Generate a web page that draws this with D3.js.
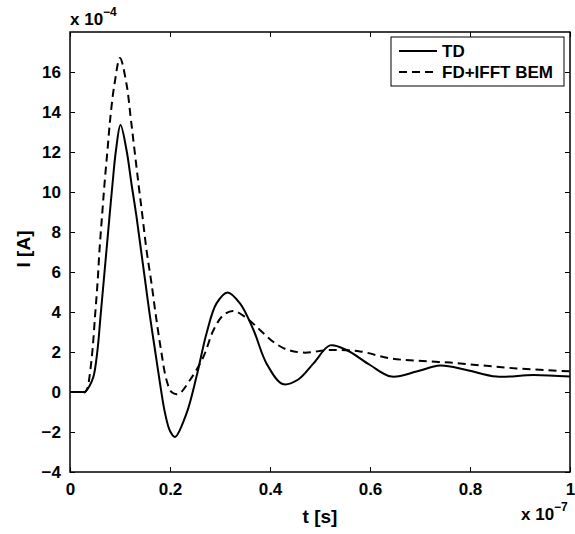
<!DOCTYPE html>
<html>
<head>
<meta charset="utf-8">
<script src="https://cdn.jsdelivr.net/npm/d3@7"></script>
<style>
  body { margin: 0; background: #fff; }
  svg { font-family: "Liberation Sans", Arial, sans-serif; font-weight: bold; }
</style>
</head>
<body>
<div id="chart"></div>
<script>
// time in units of 1e-7 s, current in units of 1e-4 A
const tdTime = [0, 0.025, 0.03, 0.039, 0.047, 0.055, 0.061, 0.067, 0.073, 0.079, 0.085, 0.092, 0.101, 0.113, 0.123, 0.133, 0.142, 0.151, 0.16, 0.17, 0.18, 0.19, 0.2, 0.21, 0.233, 0.253, 0.273, 0.293, 0.315, 0.34, 0.367, 0.393, 0.425, 0.455, 0.487, 0.52, 0.553, 0.6, 0.643, 0.693, 0.74, 0.793, 0.853, 0.927, 1.0];
const tdValues = [0, 0, 0, 0.3, 0.77, 2.1, 3.77, 5.43, 7.1, 8.77, 10.4, 12.1, 13.35, 12.1, 10.4, 8.77, 7.1, 5.43, 3.77, 2.1, 0.43, -1.05, -1.95, -2.25, -1.07, 0.77, 2.93, 4.43, 4.98, 4.43, 3.1, 1.43, 0.4, 0.6, 1.43, 2.33, 2.1, 1.35, 0.77, 1.02, 1.32, 1.1, 0.77, 0.85, 0.77];

const fdTime = [0, 0.025, 0.03, 0.035, 0.039, 0.045, 0.05, 0.055, 0.059, 0.064, 0.069, 0.075, 0.081, 0.089, 0.1, 0.113, 0.121, 0.129, 0.137, 0.145, 0.153, 0.163, 0.172, 0.182, 0.193, 0.203, 0.217, 0.24, 0.267, 0.287, 0.307, 0.327, 0.353, 0.38, 0.407, 0.433, 0.467, 0.52, 0.58, 0.64, 0.693, 0.76, 0.827, 0.893, 1.0];
const fdValues = [0, 0, 0, 0.2, 0.77, 2.1, 3.77, 5.43, 7.1, 8.77, 10.4, 12.1, 13.8, 15.4, 16.7, 15.4, 13.8, 12.1, 10.4, 8.77, 7.1, 5.43, 3.77, 2.1, 0.6, 0.0, -0.1, 0.6, 1.77, 3.1, 3.85, 4.05, 3.7, 3.1, 2.5, 2.13, 1.97, 2.1, 2.03, 1.68, 1.57, 1.47, 1.32, 1.18, 1.03];

const xTicks = [0, 0.2, 0.4, 0.6, 0.8, 1];
const yTicks = [-4, -2, 0, 2, 4, 6, 8, 10, 12, 14, 16];
const seriesNames = ["TD", "FD+IFFT BEM"];

const width = 575;
const height = 534;
const marginTop = 32;
const marginRight = 5;
const marginBottom = 62;
const marginLeft = 70;

const x = d3.scaleLinear()
    .domain([0, 1])
    .range([marginLeft, width - marginRight]);

const y = d3.scaleLinear()
    .domain([-4, 18])
    .range([height - marginBottom, marginTop]);

const svg = d3.select("#chart")
  .append("svg")
    .attr("width", width)
    .attr("height", height)
    .attr("viewBox", [0, 0, width, height]);

// inward ticks on all four sides, matlab style
const tickLen = 5;
const axisStyle = g => {
  g.select(".domain").remove();
  g.selectAll("line").attr("stroke", "#000").attr("stroke-width", 1);
  g.selectAll("text").attr("fill", "#000").attr("font-size", 17).attr("font-weight", "bold");
};

svg.append("g")
    .attr("transform", `translate(0,${height - marginBottom})`)
    .call(d3.axisBottom(x).tickValues(xTicks).tickSize(-tickLen).tickPadding(11)
      .tickFormat(d => d === 0 || d === 1 ? d3.format("d")(d) : d3.format(".1f")(d)))
    .call(axisStyle);

svg.append("g")
    .attr("transform", `translate(0,${marginTop})`)
    .call(d3.axisTop(x).tickValues(xTicks).tickSize(-tickLen).tickFormat(""))
    .call(axisStyle);

svg.append("g")
    .attr("transform", `translate(${marginLeft},0)`)
    .call(d3.axisLeft(y).tickValues(yTicks).tickSize(-tickLen).tickPadding(9)
      .tickFormat(d => d < 0 ? "\u2212" + Math.abs(d) : d))
    .call(axisStyle);

svg.append("g")
    .attr("transform", `translate(${width - marginRight},0)`)
    .call(d3.axisRight(y).tickValues(yTicks).tickSize(-tickLen).tickFormat(""))
    .call(axisStyle);

// box
svg.append("rect")
    .attr("x", marginLeft)
    .attr("y", marginTop)
    .attr("width", width - marginRight - marginLeft)
    .attr("height", height - marginBottom - marginTop)
    .attr("fill", "none")
    .attr("stroke", "#000")
    .attr("stroke-width", 1.5);

// curves
const line = d3.line()
    .x(d => x(d[0]))
    .y(d => y(d[1]))
    .curve(d3.curveCatmullRom.alpha(0.5));

svg.append("path")
    .datum(d3.zip(fdTime, fdValues))
    .attr("fill", "none")
    .attr("stroke", "#000")
    .attr("stroke-width", 2)
    .attr("stroke-dasharray", "8,5")
    .attr("d", line);

svg.append("path")
    .datum(d3.zip(tdTime, tdValues))
    .attr("fill", "none")
    .attr("stroke", "#000")
    .attr("stroke-width", 2)
    .attr("d", line);

// exponent labels
const expLabel = (px, py, exp) => {
  const t = svg.append("text")
      .attr("x", px)
      .attr("y", py)
      .attr("font-size", 17)
      .attr("fill", "#000");
  t.append("tspan").text("x 10");
  t.append("tspan").attr("dy", -9).attr("font-size", 12).text("\u2212" + exp);
};
expLabel(70, 25, 4);
expLabel(521, 520, 7);

// axis labels
svg.append("text")
    .attr("x", (marginLeft + width - marginRight) / 2)
    .attr("y", 523)
    .attr("text-anchor", "middle")
    .attr("font-size", 19)
    .attr("fill", "#000")
    .text("t [s]");

svg.append("text")
    .attr("transform", `translate(30,${(marginTop + height - marginBottom) / 2 - 3}) rotate(-90)`)
    .attr("text-anchor", "middle")
    .attr("font-size", 19)
    .attr("fill", "#000")
    .text("I [A]");

// legend
const legend = svg.append("g").attr("transform", "translate(391,37)");
legend.append("rect")
    .attr("width", 173)
    .attr("height", 49)
    .attr("fill", "#fff")
    .attr("stroke", "#000")
    .attr("stroke-width", 1);

seriesNames.forEach((name, i) => {
  const ly = 14 + i * 21;
  legend.append("line")
      .attr("x1", 8).attr("x2", 46)
      .attr("y1", ly).attr("y2", ly)
      .attr("stroke", "#000")
      .attr("stroke-width", 2)
      .attr("stroke-dasharray", i === 1 ? "8,5" : null);
  legend.append("text")
      .attr("x", 51)
      .attr("y", ly + 6)
      .attr("font-size", 17)
      .attr("fill", "#000")
      .text(name);
});
</script>
</body>
</html>
